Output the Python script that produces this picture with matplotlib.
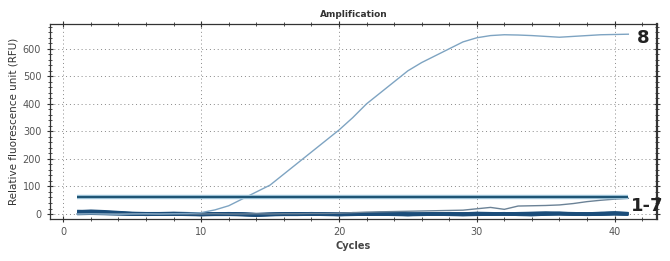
import numpy as np
import matplotlib.pyplot as plt
from matplotlib.ticker import MultipleLocator

cycles = list(range(1, 42))

# sample 8 (positive)
rfu_8 = [0, 1, 0, -1, 0, 1, 0, 1, 2, 5, 15, 30, 55, 80, 105, 145, 185, 225, 265, 305,
         350, 400, 440, 480, 520, 550, 575, 600, 625, 640, 648, 651, 650, 648, 645, 642,
         645, 648, 651, 652, 653]

# drifting negative sample
rfu_drift = [0, 1, 0, 0, 1, 0, 0, 1, 0, 0, 1, 0, 0, 1, 0, 1, 1, 2, 2, 3,
             5, 7, 8, 9, 10, 11, 12, 13, 14, 19, 24, 17, 29, 30, 31, 33, 38, 45, 50, 54, 57]

# samples 1-7 (negatives)
neg_1 = [10, 9, 7, 4, 2, 1, 0, 1, 0, -1, 0, 1, 0, -2, -1, 0, 1, 0, -1, 0,
         1, 0, 2, 1, 0, -1, 0, 1, 0, 2, 1, 0, 1, 2, 3, 2, 1, 0, 2, 3, 1]
neg_2 = [6, 8, 6, 3, 1, 0, 1, 2, 1, 0, -1, 0, -1, -3, -1, 0, 0, 1, 0, -1,
         0, 1, 1, 0, -1, 0, 1, 0, -1, 0, 1, 2, 0, -1, 1, 3, 1, 0, 1, 4, 2]
neg_3 = [3, 5, 4, 2, 0, -1, 0, 0, -1, -2, -1, -1, -2, -4, -2, -1, -1, 0, -1, -2,
         -1, 0, 0, -1, -2, -1, 0, -1, -2, -1, 0, 1, -1, -2, 0, 1, 0, -1, 0, 2, 0]
neg_4 = [8, 11, 9, 6, 3, 2, 2, 3, 2, 1, 1, 2, 1, -1, 0, 1, 1, 2, 1, 0,
         2, 1, 3, 2, 1, 0, 1, 2, 1, 3, 2, 1, 2, 3, 4, 3, 2, 1, 3, 4, 2]
neg_5 = [2, 3, 2, 1, 0, -2, -1, -1, -2, -3, -2, -2, -3, -5, -3, -2, -2, -1, -2, -3,
         -2, -1, -1, -2, -3, -2, -1, -2, -3, -2, -1, 0, -2, -3, -1, 0, -1, -2, -1, 0, -1]
neg_6 = [5, 7, 5, 3, 1, 0, 0, 1, 0, -1, 0, 0, -1, -2, -1, 0, 0, 1, 0, -1,
         0, 0, 1, 0, -1, 0, 0, 1, 0, 1, 0, 1, 0, 1, 2, 2, 1, 0, 1, 2, 1]
neg_7 = [1, 2, 1, 0, -1, -1, -1, 0, -1, -2, -1, -1, -2, -3, -2, -1, -1, 0, -1, -2,
         -1, -1, 0, -1, -2, -1, -1, 0, -1, 0, -1, 0, -1, 0, 1, 1, 0, -1, 0, 1, 0]
negatives = [neg_1, neg_2, neg_3, neg_4, neg_5, neg_6, neg_7]

threshold = 60

fig = plt.figure(figsize=(6.7, 2.61), dpi=100)
ax = fig.add_axes([0.074, 0.161, 0.907, 0.747])

for neg in negatives:
    ax.plot(cycles, neg, color="#1b4d7a", lw=2.2, solid_capstyle="butt")
ax.plot(cycles, rfu_drift, color="#6b8296", lw=1.0)
ax.plot(cycles, rfu_8, color="#7ea4c2", lw=1.0)

# threshold line
ax.plot([cycles[0], cycles[-1]], [threshold, threshold], color="#a9cde0", lw=3.2, solid_capstyle="butt")
ax.plot([cycles[0], cycles[-1]], [threshold, threshold], color="#1f5575", lw=1.6, solid_capstyle="butt")

ax.set_xlim(-1, 43.1)
ax.set_ylim(-18, 690)
ax.xaxis.set_major_locator(MultipleLocator(10))
ax.xaxis.set_minor_locator(MultipleLocator(2))
ax.yaxis.set_major_locator(MultipleLocator(100))
ax.yaxis.set_minor_locator(MultipleLocator(20))
ax.tick_params(which="both", direction="inout", top=True, right=True,
               labelsize=7, labelcolor="#555555", color="#333333")
ax.tick_params(which="major", length=5, width=0.8)
ax.tick_params(which="minor", length=3, width=0.6)
ax.grid(True, which="major", linestyle=(0, (1, 3)), color="#888888", lw=0.7)

for s in ax.spines.values():
    s.set_color("#333333")
    s.set_linewidth(0.9)
ax.spines["right"].set_linewidth(1.6)

ax.set_title("Amplification", fontsize=6.5, fontweight="bold", color="#333333", pad=5)
ax.set_xlabel("Cycles", fontsize=7, fontweight="bold", color="#444444", labelpad=3)
ax.set_ylabel("Relative fluorescence unit (RFU)", fontsize=7.5, color="#333333", labelpad=3)

ax.text(41.6, 640, "8", fontsize=13, fontweight="bold", color="#222222", ha="left", va="center")
ax.text(41.2, 30, "1-7", fontsize=13, fontweight="bold", color="#222222", ha="left", va="center",
        clip_on=False)

fig.savefig("out.png", dpi=100)
